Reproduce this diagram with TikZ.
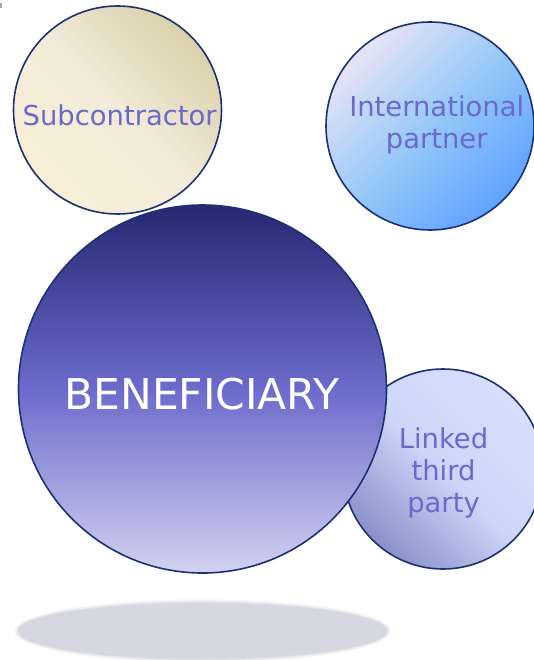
\documentclass[tikz,border=0pt]{standalone}
\usepackage{fontspec}
\setmainfont{DejaVu Sans}
\definecolor{edge}{RGB}{28,48,115}
\definecolor{lbl}{RGB}{106,106,204}
\definecolor{subA}{RGB}{218,208,170}
\definecolor{subB}{RGB}{242,236,218}
\definecolor{subC}{RGB}{248,238,214}
\definecolor{intA}{RGB}{230,228,244}
\definecolor{intB}{RGB}{150,200,248}
\definecolor{intC}{RGB}{95,163,255}
\definecolor{linA}{RGB}{214,223,255}
\definecolor{linB}{RGB}{205,214,248}
\definecolor{linC}{RGB}{138,144,200}
\definecolor{benA}{RGB}{38,40,114}
\definecolor{benB}{RGB}{107,107,204}
\definecolor{benC}{RGB}{210,210,240}
\definecolor{shad}{RGB}{214,215,225}
\begin{document}
\begin{tikzpicture}[x=1pt,y=-1pt,
  bubble/.style={circle, draw=edge, line width=1.6pt, inner sep=0pt},
  lab/.style={text=lbl, font=\fontsize{27.4}{32}\selectfont, anchor=base, inner sep=0pt}]
\useasboundingbox (0,0) rectangle (534,660);
\clip (0,0) rectangle (534,660);
% small mark
\fill[gray!70] (0,3) rectangle (1.8,8);
% shadow with soft edge
\foreach \k/\p in {4/12,3.2/25,2.4/40,1.6/58,0.8/78,0/100}{
  \fill[shad!\p] (202.5,631) ellipse ({184.5pt+\k pt} and {28pt+\k pt});
}
% circles
\node[bubble, minimum size=208pt, top color=subA, bottom color=subC, middle color=subB, shading angle=-45] (sub) at (117.5,110) {};
\node[bubble, minimum size=208pt, top color=intA, bottom color=intC, middle color=intB, shading angle=45] (int) at (430,126) {};
\node[bubble, minimum size=200pt, top color=linA, bottom color=linC, middle color=linB, shading angle=-45] (lin) at (443,469) {};
\node[bubble, minimum size=368pt, top color=benA, bottom color=benC, middle color=benB] (ben) at (202.5,389) {};
% labels
\node[lab] (subt) at (119.7,125.5) {Subcontractor};
\node[lab] (int1) at (436.7,116.7) {International};
\node[lab] (int2) at (436.7,148.3) {partner};
\node[lab] (lin1) at (443.5,448) {Linked};
\node[lab] (lin2) at (443.5,480) {third};
\node[lab] (lin3) at (443.5,512) {party};
\node[lab, text=white, font=\fontsize{42.4}{50}\selectfont] (bent) at (202,409) {BENEFICIARY};
\end{tikzpicture}
\end{document}
